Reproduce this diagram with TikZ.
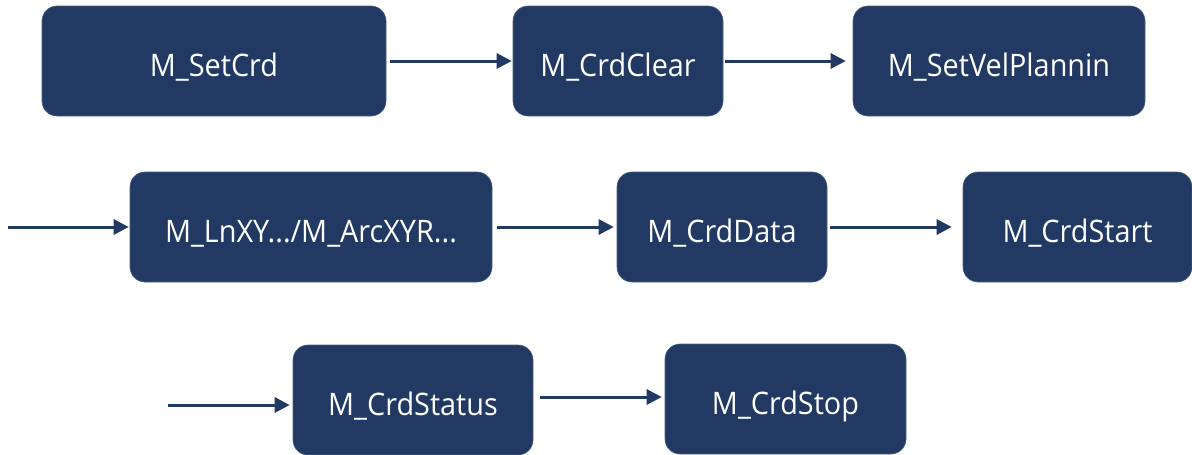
\documentclass[tikz,border=0pt]{standalone}
\usepackage{fontspec}
\setmainfont[FakeStretch=0.93]{Open Sans}
\usetikzlibrary{arrows.meta}
\definecolor{navy}{HTML}{213963}
\tikzset{
  box/.style={fill=navy, draw=navy!80!white, line width=0.6pt, rounded corners=15pt, inner sep=0pt,
    text=white, font=\fontsize{31}{36}\selectfont, minimum height=110pt,
    text height=30pt, text depth=0pt},
  arr/.style={draw=navy, line width=3pt, -{Triangle[length=15pt,width=15pt]}}
}
\begin{document}
\begin{tikzpicture}[x=1pt,y=-1pt]
\useasboundingbox (0,0) rectangle (1192,455);
\node[box, minimum width=344pt] (b1) at (214,61) {M\_SetCrd};
\node[box, minimum width=210pt] (b2) at (618,61) {M\_CrdClear};
\node[box, minimum width=292pt] (b3) at (999,61) {M\_SetVelPlannin};
\node[box, minimum width=362pt] (b4) at (311,227) {M\_LnXY.../M\_ArcXYR...};
\node[box, minimum width=210pt] (b5) at (722,227) {M\_CrdData};
\node[box, minimum width=229pt] (b6) at (1077.5,227) {M\_CrdStart};
\node[box, minimum width=240pt] (b7) at (413,400) {M\_CrdStatus};
\node[box, minimum width=241pt] (b8) at (785.5,399) {M\_CrdStop};
\coordinate (s4) at (8,227);
\coordinate (s7) at (168,405);
\draw[arr, shorten <=4pt, shorten >=1pt] (b1.east) -- (b1.east -| b2.west);
\draw[arr, shorten <=2pt, shorten >=7pt] (b2.east) -- (b2.east -| b3.west);
\draw[arr, shorten >=1pt] (s4) -- (s4 -| b4.west);
\draw[arr, shorten <=5pt, shorten >=3pt] (b4.east) -- (b4.east -| b5.west);
\draw[arr, shorten <=3pt, shorten >=11pt] (b5.east) -- (b5.east -| b6.west);
\draw[arr, shorten >=3pt] (s7) -- (s7 -| b7.west);
\draw[arr, shorten <=7pt, shorten >=3pt] ([yshift=3pt]b7.east) -- ([yshift=3pt]b7.east -| b8.west);
\end{tikzpicture}
\end{document}
